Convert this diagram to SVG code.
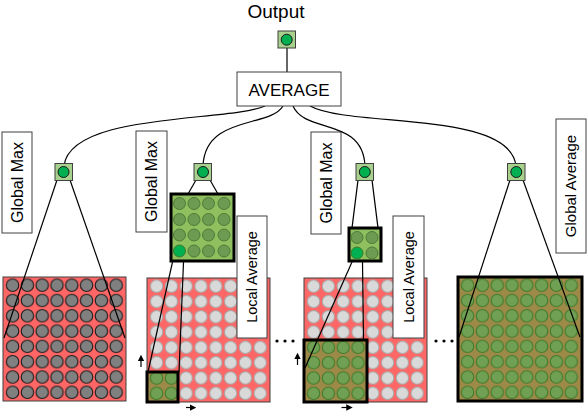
<svg xmlns="http://www.w3.org/2000/svg" width="588" height="419" viewBox="0 0 588 419">
<style>
text{font-family:"Liberation Sans",Arial,sans-serif;fill:#000}
.lbl{fill:#fff;stroke:#404040;stroke-width:1}
.nd{fill:#a9d18e;stroke:#404040;stroke-width:1}
.ndc{fill:#00b050;stroke:#1a1a1a;stroke-width:1}
.red{fill:#ff6666;stroke:#404040;stroke-width:1}
.win{fill:none;stroke:#000;stroke-width:3}
.ln{fill:none;stroke:#000;stroke-width:1.2}
.dot{fill:#000}
</style>
<defs>
<pattern id="pg" patternUnits="userSpaceOnUse" x="2.2" y="0.55" width="14.8" height="15.3">
<circle cx="7.4" cy="7.65" r="6.2" fill="#808080" stroke="#1a1a1a" stroke-width="1.1"/>
</pattern>
<pattern id="pl" patternUnits="userSpaceOnUse" x="2.2" y="0.55" width="14.8" height="15.3">
<circle cx="7.4" cy="7.65" r="6.2" fill="#d9d9d9" stroke="#a6a6a6" stroke-width="1"/>
</pattern>
<pattern id="pn" patternUnits="userSpaceOnUse" x="2.2" y="0.55" width="14.8" height="15.3">
<circle cx="7.4" cy="7.65" r="6.2" fill="#6fa053" stroke="#3f7a2a" stroke-width="1.1"/>
</pattern>
<marker id="ah" viewBox="0 0 10 10" refX="5" refY="5" markerWidth="6.5" markerHeight="6.5" orient="auto" markerUnits="userSpaceOnUse">
<path d="M0,0 L10,5 L0,10 z" fill="#000"/>
</marker>
</defs>

<g id="output-label"><text x="276" y="18" font-size="19" text-anchor="middle">Output</text></g>

<g id="labels">
<g id="label-gmax1"><rect class="lbl" x="2" y="132" width="30" height="101"/><text transform="translate(17,182.5) rotate(-90)" y="5.7" font-size="16" text-anchor="middle">Global Max</text></g>
<g id="label-gmax2"><rect class="lbl" x="136" y="131" width="31" height="101"/><text transform="translate(151.5,181.5) rotate(-90)" y="5.7" font-size="16" text-anchor="middle">Global Max</text></g>
<g id="label-gmax3"><rect class="lbl" x="311" y="132" width="30" height="102"/><text transform="translate(326,183) rotate(-90)" y="5.7" font-size="16" text-anchor="middle">Global Max</text></g>
<g id="label-gavg"><rect class="lbl" x="556" y="119" width="30" height="134"/><text transform="translate(571,186) rotate(-90)" y="5.4" font-size="15" text-anchor="middle">Global Average</text></g>
</g>

<g id="panel1" transform="translate(3,277)">
<rect class="red" x="0" y="0" width="123" height="124"/>
<rect x="2.2" y="0.55" width="118.4" height="122.4" fill="url(#pg)"/>
</g>

<g id="panel2" transform="translate(147,278)">
<rect class="red" x="0" y="0" width="123" height="124"/>
<rect x="2.2" y="0.55" width="118.4" height="122.4" fill="url(#pl)"/>
<rect x="0" y="94" width="31" height="30" fill="#9e8a48"/>
<rect x="2.2" y="92.35" width="28.6" height="30.6" fill="url(#pn)"/>
<rect class="win" x="0" y="94" width="31" height="30"/>
</g>

<g id="panel3" transform="translate(304,278)">
<rect class="red" x="0" y="0" width="123" height="124"/>
<rect x="2.2" y="0.55" width="118.4" height="122.4" fill="url(#pl)"/>
<rect x="0" y="62" width="63" height="62" fill="#9e8a48"/>
<rect x="2.2" y="62" width="59.2" height="61" fill="url(#pn)"/>
<rect class="win" x="0" y="62" width="63" height="62"/>
</g>

<g id="panel4" transform="translate(458,277)">
<rect x="0" y="0" width="124" height="124" fill="#9e8a48"/>
<rect x="2.2" y="0.55" width="118.4" height="122.4" fill="url(#pn)"/>
<rect class="win" x="0" y="0" width="124" height="124"/>
</g>

<g id="label-lavg2"><rect class="lbl" x="237" y="216" width="30" height="122"/><text transform="translate(252,277) rotate(-90)" y="5.2" font-size="14.5" text-anchor="middle">Local Average</text></g>
<g id="label-lavg3"><rect class="lbl" x="393" y="216" width="31" height="122"/><text transform="translate(408.5,277) rotate(-90)" y="5.2" font-size="14.5" text-anchor="middle">Local Average</text></g>

<g id="pool2">
<rect x="171" y="194" width="63" height="67" fill="#8fbf5f" stroke="#000" stroke-width="3"/>
<g fill="#6e9b52" stroke="#4f7a37" stroke-width="1">
<circle cx="179.5" cy="203.5" r="6"/><circle cx="194" cy="203.5" r="6"/><circle cx="208.5" cy="203.5" r="6"/><circle cx="224" cy="203.5" r="6"/>
<circle cx="179.5" cy="219.5" r="6"/><circle cx="194" cy="219.5" r="6"/><circle cx="208.5" cy="219.5" r="6"/><circle cx="224" cy="219.5" r="6"/>
<circle cx="179.5" cy="235" r="6"/><circle cx="194" cy="235" r="6"/><circle cx="208.5" cy="235" r="6"/><circle cx="224" cy="235" r="6"/>
<circle cx="194" cy="251" r="6"/><circle cx="208.5" cy="251" r="6"/><circle cx="224" cy="251" r="6"/>
</g>
<circle cx="179.5" cy="251" r="6" fill="#00b050" stroke="#3f7a2a" stroke-width="1"/>
</g>

<g id="pool3">
<rect x="349" y="228" width="32" height="33" fill="#8fbf5f" stroke="#000" stroke-width="3"/>
<g fill="#6e9b52" stroke="#4f7a37" stroke-width="1">
<circle cx="357" cy="237.5" r="6"/><circle cx="372" cy="237.5" r="6"/><circle cx="372" cy="253" r="6"/>
</g>
<circle cx="357" cy="253" r="6" fill="#00b050" stroke="#3f7a2a" stroke-width="1"/>
</g>

<g id="connectors">
<line class="ln" x1="287" y1="48" x2="287" y2="72"/>
<path class="ln" d="M265,106 C230,122 70,112 64,166"/>
<path class="ln" d="M283,106 C270,128 205,115 203,166"/>
<path class="ln" d="M293,106 C305,134 363,117 365,166"/>
<path class="ln" d="M310,106 C350,128 510,110 516,166"/>
<line class="ln" x1="57" y1="180" x2="4" y2="338"/>
<line class="ln" x1="70" y1="180" x2="125" y2="338"/>
<line class="ln" x1="196" y1="180" x2="188" y2="194"/>
<line class="ln" x1="210" y1="180" x2="218" y2="194"/>
<line class="ln" x1="172.5" y1="262" x2="148" y2="372"/>
<line class="ln" x1="183.5" y1="262" x2="179" y2="372"/>
<line class="ln" x1="358" y1="180" x2="352" y2="228"/>
<line class="ln" x1="372" y1="180" x2="378" y2="228"/>
<line class="ln" x1="352" y1="262" x2="305" y2="368"/>
<line class="ln" x1="362.5" y1="262" x2="363.5" y2="340"/>
<line class="ln" x1="510" y1="180" x2="459" y2="337"/>
<line class="ln" x1="523" y1="180" x2="580" y2="337"/>
<line class="ln" stroke-width="1.6" x1="141" y1="367" x2="141" y2="358" marker-end="url(#ah)"/>
<line class="ln" stroke-width="1.6" x1="186" y1="407.5" x2="193" y2="407.5" marker-end="url(#ah)"/>
<line class="ln" stroke-width="1.6" x1="297.5" y1="365" x2="297.5" y2="356" marker-end="url(#ah)"/>
<line class="ln" stroke-width="1.6" x1="341.5" y1="407.5" x2="349.5" y2="407.5" marker-end="url(#ah)"/>
</g>

<g id="ellipsis">
<circle class="dot" cx="277" cy="341" r="1.6"/><circle class="dot" cx="285" cy="341" r="1.6"/><circle class="dot" cx="293" cy="341" r="1.6"/>
<circle class="dot" cx="436" cy="341" r="1.6"/><circle class="dot" cx="444" cy="341" r="1.6"/><circle class="dot" cx="452" cy="341" r="1.6"/>
</g>

<g id="average"><rect class="lbl" x="237" y="72" width="104" height="34"/><text x="289" y="96" font-size="17" text-anchor="middle">AVERAGE</text></g>
<g id="node-out"><rect class="nd" x="278" y="31" width="17.5" height="17"/><circle class="ndc" cx="286.7" cy="39.7" r="5.5"/></g>
<g id="node1"><rect class="nd" x="55" y="163.5" width="17.5" height="17"/><circle class="ndc" cx="63.5" cy="172" r="5.5"/></g>
<g id="node2"><rect class="nd" x="194" y="163.5" width="17.5" height="17"/><circle class="ndc" cx="203" cy="172" r="5.5"/></g>
<g id="node3"><rect class="nd" x="356" y="163.5" width="17.5" height="17"/><circle class="ndc" cx="364.8" cy="172" r="5.5"/></g>
<g id="node4"><rect class="nd" x="507.5" y="163.5" width="17.5" height="17"/><circle class="ndc" cx="516.3" cy="172" r="5.5"/></g>
</svg>
